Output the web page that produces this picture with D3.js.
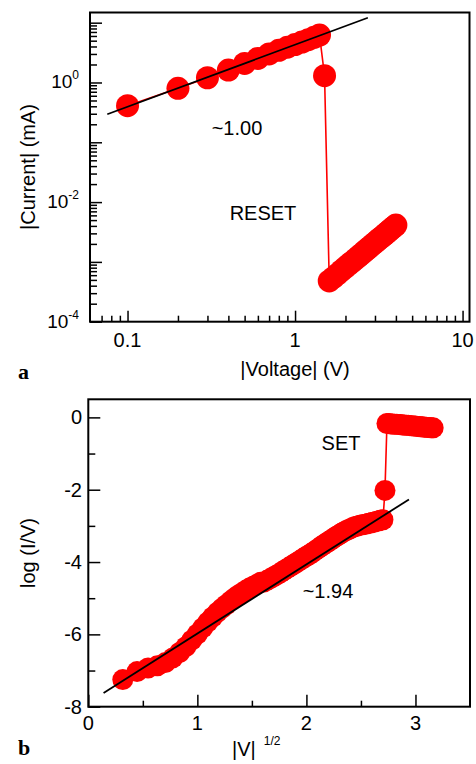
<!DOCTYPE html>
<html><head><meta charset="utf-8">
<script src="https://cdn.jsdelivr.net/npm/d3@7"></script>
<style>body{margin:0;background:#fff} svg text{font-family:"Liberation Sans",Arial,sans-serif;fill:#000}</style>
</head><body><svg id="c" width="476" height="764"></svg>
<script>
// ---------- Panel a data: |Voltage| (V) vs |Current| (mA) ----------
const voltA = [0.1,0.2,0.3,0.4,0.5,0.6,0.7,0.8,0.9,1.0,1.1,1.2,1.3,1.4,1.5,
  1.6,1.7,1.8,1.9,2.0,2.1,2.2,2.3,2.4,2.5,2.6,2.7,2.8,2.9,3.0,3.1,3.2,3.3,3.4,3.5,3.6,3.7,3.8,3.9,4.0];
const currA = [0.41,0.80,1.20,1.61,2.08,2.53,3.0,3.45,3.9,4.3,4.75,5.2,5.7,6.2,1.3,
  4.8e-4,5.5e-4,6.3e-4,7.2e-4,8.1e-4,9.1e-4,1.01e-3,1.12e-3,1.24e-3,1.36e-3,1.50e-3,1.64e-3,1.78e-3,1.94e-3,2.10e-3,
  2.27e-3,2.44e-3,2.62e-3,2.81e-3,3.01e-3,3.22e-3,3.43e-3,3.66e-3,3.88e-3,4.12e-3];
const fitAV = [0.0757, 2.72];
const fitAI = [0.294, 12.1];
const xTicksA = [0.1, 1, 10];
const xTickLabelsA = ["0.1", "1", "10"];
const yTicksA = [1, 1e-2, 1e-4];
const yTickExpA = ["0", "-2", "-4"];

// ---------- Panel b data: |V|^(1/2) vs log(I/V) ----------
const voltB = [0.1,0.2,0.3,0.4,0.5,0.6,0.7,0.8,0.9,1.0,1.1,1.2,1.3,1.4,1.5,1.6,1.7,1.8,1.9,2.0,
  2.1,2.2,2.3,2.4,2.5,2.6,2.7,2.8,2.9,3.0,3.1,3.2,3.3,3.4,3.5,3.6,3.7,3.8,3.9,4.0,
  4.1,4.2,4.3,4.4,4.5,4.6,4.7,4.8,4.9,5.0,5.1,5.2,5.3,5.4,5.5,5.6,5.7,5.8,5.9,6.0,
  6.1,6.2,6.3,6.4,6.5,6.6,6.7,6.8,6.9,7.0,7.1,7.2,7.3,7.4,
  7.5,7.6,7.7,7.8,7.9,8.0,8.1,8.2,8.3,8.4,8.5,8.6,8.7,8.8,8.9,9.0,9.1,9.2,9.3,9.4,9.5,9.6,9.7,9.8,9.9,10.0];
const logIVB = [-7.25,-7.03,-6.93,-6.87,-6.78,-6.65,-6.50,-6.34,-6.16,-5.99,-5.82,-5.66,-5.52,-5.39,-5.28,-5.18,-5.08,-4.99,-4.91,-4.84,
  -4.77,-4.71,-4.66,-4.61,-4.56,-4.55,-4.50,-4.45,-4.40,-4.35,-4.30,-4.24,-4.19,-4.14,-4.09,-4.04,-3.99,-3.94,-3.89,-3.84,
  -3.80,-3.75,-3.70,-3.65,-3.60,-3.55,-3.50,-3.46,-3.41,-3.37,-3.32,-3.28,-3.24,-3.20,-3.16,-3.13,-3.10,-3.07,-3.04,-3.02,
  -3.00,-2.98,-2.97,-2.96,-2.95,-2.93,-2.92,-2.90,-2.89,-2.87,-2.86,-2.84,-2.83,-2.02,
  -0.17,-0.17,-0.18,-0.18,-0.19,-0.19,-0.20,-0.20,-0.21,-0.21,-0.22,-0.22,-0.23,-0.23,-0.24,-0.24,-0.25,-0.25,-0.26,-0.26,-0.27,-0.27,-0.28,-0.28,-0.29,-0.29];
const fitBX = [0.14, 2.94];
const fitBY = [-7.62, -2.27];
const xTicksB = [0, 1, 2, 3];
const xMinorB = [0.5, 1.5, 2.5];
const yTicksB = [0, -2, -4, -6, -8];
const yMinorB = [-1, -3, -5, -7];

const RED = "#ff0000";
const svg = d3.select("#c");

function txt(g, x, y, s, size, anchor, extra) {
  const t = g.append("text").attr("x", x).attr("y", y).attr("font-size", size)
    .attr("text-anchor", anchor || "middle").text(s);
  if (extra) extra(t);
  return t;
}
function ticks(g, axisFn, scale, vals, len, transform) {
  const a = g.append("g").attr("transform", transform)
    .call(axisFn(scale).tickValues(vals).tickSize(-len).tickFormat(""));
  a.select(".domain").remove();
  a.selectAll("line").attr("stroke", "#000").attr("stroke-width", 1.5);
}

// ================= Panel a =================
const A = {l: 90, r: 469.5, t: 12.5, b: 321.7};
const xA = d3.scaleLog().domain([0.0597, 11.0]).range([A.l, A.r]);
const yA = d3.scaleLog().domain([1e-4, 14.8]).range([A.b, A.t]);
const gA = svg.append("g");

const xMinorA = xA.ticks().filter(v => !xTicksA.includes(v) && v > 0.0605);
const yAll = yA.ticks();
const yMajorA = yAll.filter(v => Math.abs(Math.log10(v) - Math.round(Math.log10(v))) < 1e-9);
const yMinorA = yAll.filter(v => !yMajorA.includes(v));
ticks(gA, d3.axisBottom, xA, xTicksA, 11, `translate(0,${A.b})`);
ticks(gA, d3.axisBottom, xA, xMinorA, 6, `translate(0,${A.b})`);
ticks(gA, d3.axisLeft, yA, yMajorA, 12, `translate(${A.l},0)`);
ticks(gA, d3.axisLeft, yA, yMinorA, 7, `translate(${A.l},0)`);

xTicksA.forEach((v, i) => txt(gA, xA(v), A.b + 25, xTickLabelsA[i], 20));
yTicksA.forEach((v, i) => {
  const t = gA.append("text").attr("x", 79).attr("y", yA(v) + 6).attr("text-anchor", "end");
  t.append("tspan").attr("font-size", 19).text("10");
  t.append("tspan").attr("font-size", 12).attr("dy", -9).text(yTickExpA[i]);
});

const ptsA = voltA.map((v, i) => [xA(v), yA(currA[i])]);
gA.append("path").attr("d", d3.line()(ptsA)).attr("fill", "none").attr("stroke", RED).attr("stroke-width", 1.6);
gA.selectAll("circle").data(ptsA).join("circle")
  .attr("cx", d => d[0]).attr("cy", d => d[1]).attr("r", 11.5).attr("fill", RED);
gA.append("line").attr("x1", xA(fitAV[0])).attr("y1", yA(fitAI[0]))
  .attr("x2", xA(fitAV[1])).attr("y2", yA(fitAI[1])).attr("stroke", "#000").attr("stroke-width", 1.8);

gA.append("rect").attr("x", A.l).attr("y", A.t).attr("width", A.r - A.l).attr("height", A.b - A.t)
  .attr("fill", "none").attr("stroke", "#000").attr("stroke-width", 2);

txt(gA, 237, 135, "~1.00", 20);
txt(gA, 263, 220, "RESET", 20);
txt(gA, 295, 376, "|Voltage| (V)", 20);
txt(gA, 0, 0, "|Current| (mA)", 20, "middle", t => t.attr("transform", "translate(35,167) rotate(-90)"));
gA.append("text").attr("x", 18).attr("y", 379).attr("font-size", 22).attr("font-weight", "bold")
  .style("font-family", "'Liberation Serif','Times New Roman',serif").text("a");

// ================= Panel b =================
const B = {l: 88.3, r: 470, t: 399.3, b: 706.7};
const xB = d3.scaleLinear().domain([0, 3.5]).range([B.l, B.r]);
const yB = d3.scaleLinear().domain([-8, 0.5]).range([B.b, B.t]);
const gB = svg.append("g");

ticks(gB, d3.axisBottom, xB, xTicksB, 12, `translate(0,${B.b})`);
ticks(gB, d3.axisBottom, xB, xMinorB, 6, `translate(0,${B.b})`);
ticks(gB, d3.axisLeft, yB, yTicksB, 12, `translate(${B.l},0)`);
ticks(gB, d3.axisLeft, yB, yMinorB, 7, `translate(${B.l},0)`);

xTicksB.forEach(v => txt(gB, xB(v), B.b + 23, String(v), 20));
yTicksB.forEach(v => txt(gB, 82, yB(v) + 7, String(v), 20, "end"));

const ptsB = voltB.map((v, i) => [xB(Math.sqrt(v)), yB(logIVB[i])]);
gB.append("path").attr("d", d3.line()(ptsB)).attr("fill", "none").attr("stroke", RED).attr("stroke-width", 1.6);
gB.selectAll("circle").data(ptsB).join("circle")
  .attr("cx", d => d[0]).attr("cy", d => d[1]).attr("r", 10.5).attr("fill", RED);
gB.append("line").attr("x1", xB(fitBX[0])).attr("y1", yB(fitBY[0]))
  .attr("x2", xB(fitBX[1])).attr("y2", yB(fitBY[1])).attr("stroke", "#000").attr("stroke-width", 1.8);

gB.append("rect").attr("x", B.l).attr("y", B.t).attr("width", B.r - B.l).attr("height", B.b - B.t)
  .attr("fill", "none").attr("stroke", "#000").attr("stroke-width", 2);

txt(gB, 341, 450, "SET", 20);
txt(gB, 328, 598, "~1.94", 20);
txt(gB, 0, 0, "log (I/V)", 20, "middle", t => t.attr("transform", "translate(35,553) rotate(-90)"));
const xl = gB.append("text").attr("x", 232).attr("y", 756).attr("text-anchor", "start");
xl.append("tspan").attr("font-size", 20).text("|V|");
xl.append("tspan").attr("font-size", 12).attr("dx", 8).attr("dy", -11).text("1/2");
gB.append("text").attr("x", 18).attr("y", 755).attr("font-size", 22).attr("font-weight", "bold")
  .style("font-family", "'Liberation Serif','Times New Roman',serif").text("b");
</script>
</body></html>
